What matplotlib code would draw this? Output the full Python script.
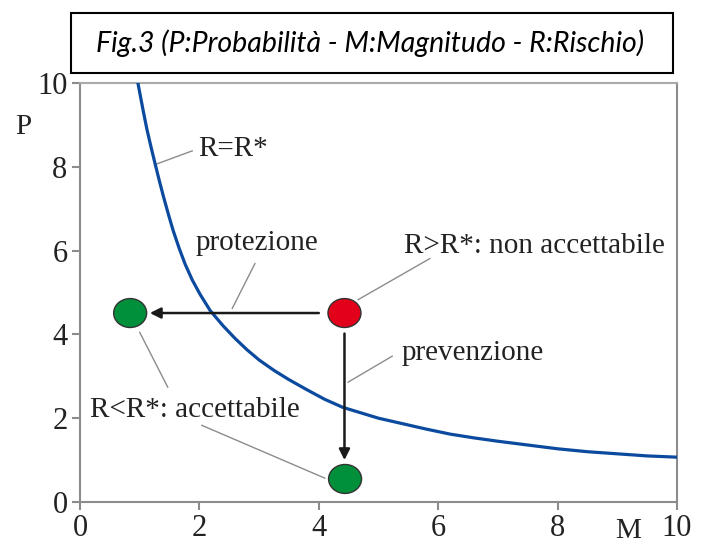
#! /usr/bin/env python3
import matplotlib
matplotlib.use("Agg")
import matplotlib.pyplot as plt
from matplotlib.patches import Ellipse, Rectangle

# curve R = R*
curve_m = [0.97, 1.05, 1.12, 1.19, 1.26, 1.33, 1.40, 1.48, 1.56, 1.66, 1.76, 1.88, 2.01,
           2.18, 2.4, 2.6, 2.8, 3.0, 3.25, 3.5, 3.8, 4.1, 4.4, 4.7, 5.0, 5.4, 5.8,
           6.2, 6.6, 7.0, 7.5, 8.0, 8.5, 9.0, 9.5, 10.0]
curve_p = [10.0, 9.40, 8.90, 8.47, 8.06, 7.66, 7.28, 6.87, 6.48, 6.06, 5.68, 5.30, 4.96,
           4.57, 4.2, 3.9, 3.63, 3.39, 3.14, 2.92, 2.68, 2.45, 2.26, 2.13, 2.0, 1.87, 1.74,
           1.62, 1.53, 1.45, 1.36, 1.27, 1.2, 1.15, 1.1, 1.07]

# points: (M, P, colour)
pt_m = [4.43, 0.84, 4.44]
pt_p = [4.51, 4.51, 0.55]
pt_col = ["#e2001a", "#008f3a", "#008f3a"]

# arrows start -> end
arrow_start = [(4.0, 4.51), (4.43, 4.02)]
arrow_end = [(1.17, 4.51), (4.43, 1.0)]

# labels: text, text pos, leader line from, leader line to, alignment
labels = ["R=R*", "protezione", "R>R*: non accettabile", "prevenzione", "R<R*: accettabile"]
label_pos = [(1.98, 8.43), (2.96, 6.17), (5.43, 6.12), (5.39, 3.55), (0.17, 2.19)]
label_ha = ["left", "center", "left", "left", "left"]
leaders = [[((1.29, 8.07), (1.88, 8.38))],
           [((2.55, 4.62), (2.93, 5.69))],
           [((4.66, 4.83), (5.86, 5.81))],
           [((4.49, 2.86), (5.23, 3.48))],
           [((4.10, 0.57), (2.04, 1.83)), ((1.0, 4.05), (1.47, 2.74))]]

title = "Fig.3 (P:Probabilità - M:Magnitudo - R:Rischio)"

serif = ["Liberation Serif", "DejaVu Serif"]
grey = "#8c8c8c"
ink = "#222222"

fig = plt.figure(figsize=(7.08, 5.44), dpi=100)
ax = fig.add_axes([80/708, 1-502/544, 597/708, 419/544])

ax.plot(curve_m, curve_p, color="#0b4a9e", lw=2.3, zorder=3, solid_joinstyle="round")

for (x0, y0), (x1, y1) in zip(arrow_start, arrow_end):
    ax.annotate("", xy=(x1, y1), xytext=(x0, y0),
                arrowprops=dict(arrowstyle="-|>", color="#1a1a1a", lw=1.8,
                                mutation_scale=16, shrinkA=0, shrinkB=0), zorder=4)

for m, p, c in zip(pt_m, pt_p, pt_col):
    ax.add_patch(Ellipse((m, p), 33/59.7, 29/42, facecolor=c, edgecolor="#333333",
                         lw=1.0, zorder=5))

for txt, (tx, ty), ha, segs in zip(labels, label_pos, label_ha, leaders):
    ax.text(tx, ty, txt, ha=ha, va="center", fontsize=21, family=serif, color=ink)
    for (a, b), (c, d) in segs:
        ax.plot([a, c], [b, d], color=grey, lw=1.0, zorder=2)

ax.set_xlim(0, 10)
ax.set_ylim(0, 10)
ax.set_xticks([0, 2, 4, 6, 8, 10])
ax.set_yticks([0, 2, 4, 6, 8, 10])
for s in ["left", "bottom", "right", "top"]:
    ax.spines[s].set_color(grey)
    ax.spines[s].set_linewidth(1.5)
ax.spines["top"].set_color("#aaaaaa")
ax.tick_params(direction="out", length=6, width=1.5, color=grey, labelsize=22,
               labelcolor=ink, pad=3)
for lab in ax.get_xticklabels() + ax.get_yticklabels():
    lab.set_family(serif)
ax.text(-0.95, 8.95, "P", fontsize=21, family=serif, color=ink, ha="center", va="center")
ax.text(9.18, -0.7, "M", fontsize=21, family=serif, color=ink, ha="center", va="center",
        clip_on=False)

fig.patches.append(Rectangle((71/708, 1-73/544), 602/708, 60/544, transform=fig.transFigure,
                             fill=False, edgecolor="black", lw=1.5))
fig.text(370/708, 1-43/544, title, ha="center", va="center", fontsize=20.5, style="italic",
         family=["Lato", "DejaVu Sans"], color="black")

fig.savefig("out.png", dpi=100)
